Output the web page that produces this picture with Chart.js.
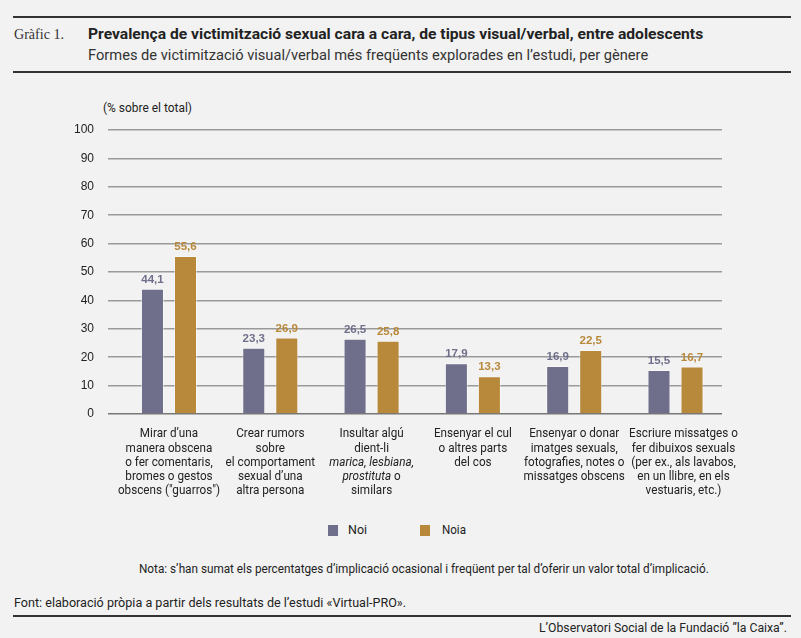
<!DOCTYPE html>
<html>
<head>
<meta charset="utf-8">
<script src="https://cdn.jsdelivr.net/npm/chart.js@4/dist/chart.umd.min.js"></script>
<style>
  html, body { margin:0; padding:0; background:#f2f2f2; }
  #page { position:relative; width:801px; height:638px; overflow:hidden; color:#222;
          font-family:Roboto,"Noto Sans",sans-serif; }
  .rule { position:absolute; left:13px; width:778px; height:2px; background:#333; }
  .t { position:absolute; white-space:nowrap; line-height:16px; transform-origin:left center; }
  .sq { position:absolute; width:10px; height:11px; }
  #box { position:absolute; left:0; top:95px; width:801px; height:420px; }
</style>
</head>
<body>
<div id="page">
  <div class="rule" style="top:16px"></div>
  <div class="t" data-w="50" style="left:14px;top:26px;font-family:'Liberation Serif','DejaVu Serif',serif;font-size:15.5px;color:#333">Gràfic 1.</div>
  <div class="t" data-w="615" style="left:88px;top:26px;font-size:15.5px;font-weight:bold;color:#222">Prevalença de victimització sexual cara a cara, de tipus visual/verbal, entre adolescents</div>
  <div class="t" data-w="560" style="left:88px;top:47px;font-size:15px;color:#333">Formes de victimització visual/verbal més freqüents explorades en l’estudi, per gènere</div>
  <div class="rule" style="top:71px"></div>

  <div class="t" data-w="89" style="left:103px;top:100px;font-size:12px">(% sobre el total)</div>

  <div id="box"><canvas id="chart"></canvas></div>

  <!-- llegenda -->
  <div class="sq" style="left:328px;top:525px;background:#6f6f8b"></div>
  <div class="t" data-w="19" style="left:348px;top:522px;font-size:13px">Noi</div>
  <div class="sq" style="left:420px;top:525px;background:#b8893b"></div>
  <div class="t" data-w="24" style="left:442px;top:522px;font-size:13px">Noia</div>

  <div class="t" data-w="570" style="left:139px;top:561px;font-size:12.5px">Nota: s’han sumat els percentatges d’implicació ocasional i freqüent per tal d’oferir un valor total d’implicació.</div>
  <div class="t" data-w="392" style="left:14px;top:595px;font-size:12.5px">Font: elaboració pròpia a partir dels resultats de l’estudi «Virtual-PRO».</div>
  <div class="rule" style="top:615px"></div>
  <div class="t" data-w="248" style="left:539px;top:620px;font-size:12.5px">L’Observatori Social de la Fundació ”la Caixa”.</div>
</div>

<script>
// ── dades ──────────────────────────────────────────────
const CATEGORIES = [
  ["Mirar d’una", "manera obscena", "o fer comentaris,", "bromes o gestos", "obscens (\"guarros\")"],
  ["Crear rumors", "sobre", "el comportament", "sexual d’una", "altra persona"],
  ["Insultar algú", "dient-li", "_marica, lesbiana,_", "_prostituta_ o", "similars"],
  ["Ensenyar el cul", "o altres parts", "del cos"],
  ["Ensenyar o donar", "imatges sexuals,", "fotografies, notes o", "missatges obscens"],
  ["Escriure missatges o", "fer dibuixos sexuals", "(per ex., als lavabos,", "en un llibre, en els", "vestuaris, etc.)"],
];
const NOI  = [44.1, 23.3, 26.5, 17.9, 16.9, 15.5];
const NOIA = [55.6, 26.9, 25.8, 13.3, 22.5, 16.7];
const SERIES = ["Noi", "Noia"];
const COLORS = ["#6f6f8b", "#b8893b"];
const Y_TICKS = [0, 10, 20, 30, 40, 50, 60, 70, 80, 90, 100];

// textos html: estrènyer fins a l'amplada de l'original
document.querySelectorAll("[data-w]").forEach(el => {
  const w = el.getBoundingClientRect().width;
  el.style.transform = `scaleX(${(+el.dataset.w / w).toFixed(3)})`;
});

const SANS = "Roboto,'Noto Sans',sans-serif";
const fmt = v => v.toFixed(1).replace(".", ",");
// amplades mesurades a l'original, per calibrar l'estrenyiment
const WIDTH_REF = { "el comportament": 90, "fotografies, notes o": 98, "(per ex., als lavabos,": 108, "Escriure missatges o": 107.5 };

// etiquetes de valor sobre cada barra
const valueLabels = {
  id: "valueLabels",
  afterDatasetsDraw(chart) {
    const ctx = chart.ctx;
    ctx.save();
    ctx.font = "bold 11.5px 'Liberation Sans', Arial, sans-serif";
    ctx.textAlign = "center";
    ctx.textBaseline = "middle";
    chart.data.datasets.forEach((ds, di) => {
      ctx.fillStyle = COLORS[di];
      chart.getDatasetMeta(di).data.forEach((bar, i) => {
        ctx.fillText(fmt(ds.data[i].y), bar.x, bar.y - 9);
      });
    });
    ctx.restore();
  }
};

// etiquetes de categoria (amb trams en cursiva), estretes com a l'original
const catLabels = {
  id: "catLabels",
  afterDraw(chart, args, opts) {
    const ctx = chart.ctx, xs = chart.scales.x;
    const top = chart.chartArea.bottom + 20, lh = 14.3;
    const font = it => (it ? "italic " : "") + "13px " + SANS;
    ctx.save();
    ctx.font = font(false);
    let want = 0, got = 0;
    for (const s in WIDTH_REF) { want += WIDTH_REF[s]; got += ctx.measureText(s).width; }
    const f = want / got;
    ctx.fillStyle = "#222";
    ctx.textBaseline = "middle";
    ctx.textAlign = "left";
    CATEGORIES.forEach((lines, i) => {
      const cx = xs.getPixelForValue(i) + (opts.shift[i] || 0);
      lines.forEach((line, k) => {
        const parts = line.split("_").map((s, j) => ({ s, it: j % 2 === 1 })).filter(p => p.s);
        const w = parts.reduce((a, p) => { ctx.font = font(p.it); return a + ctx.measureText(p.s).width; }, 0);
        ctx.save();
        ctx.translate(cx, top + k * lh);
        ctx.scale(f, 1);
        let x = -w / 2;
        parts.forEach(p => {
          ctx.font = font(p.it);
          ctx.fillText(p.s, x, 0);
          x += ctx.measureText(p.s).width;
        });
        ctx.restore();
      });
    });
    ctx.restore();
  }
};

new Chart(document.getElementById("chart"), {
  type: "bar",
  data: {
    datasets: [NOI, NOIA].map((vals, di) => ({
      label: SERIES[di],
      data: vals.map((v, i) => ({ x: i, y: v })),
      backgroundColor: COLORS[di],
      borderColor: "rgba(255,255,255,.45)",
      borderWidth: 1,
      categoryPercentage: 0.652,
      barPercentage: 0.697,
    })),
  },
  options: {
    responsive: true,
    maintainAspectRatio: false,
    animation: false,
    layout: { padding: { left: 0, right: 79, top: 35, bottom: 0 } },
    plugins: {
      legend: { display: false },
      tooltip: { enabled: false },
      catLabels: { shift: [0, 0, 0, 0, 0, 8] },
    },
    scales: {
      x: {
        type: "linear",
        offset: false,
        min: -0.602,
        max: 5.459,
        afterBuildTicks: ax => { ax.ticks = CATEGORIES.map((_, i) => ({ value: i })); },
        afterFit: s => { s.height = 101; },
        grid: { display: false },
        border: { display: false },
        ticks: { display: false },
      },
      y: {
        min: 0,
        max: 100,
        afterBuildTicks: ax => { ax.ticks = Y_TICKS.map(v => ({ value: v })); },
        afterFit: s => { s.width = 108; },
        grid: {
          color: ctx => ctx.tick && ctx.tick.value === 0 ? "#777" : "#9a9a9a",
          lineWidth: 1.5,
          drawTicks: false,
        },
        border: { display: false },
        ticks: {
          padding: 14,
          color: "#222",
          font: { family: "'Liberation Sans', Arial, sans-serif", size: 12 },
        },
      },
    },
  },
  plugins: [valueLabels, catLabels],
});
</script>
</body>
</html>
